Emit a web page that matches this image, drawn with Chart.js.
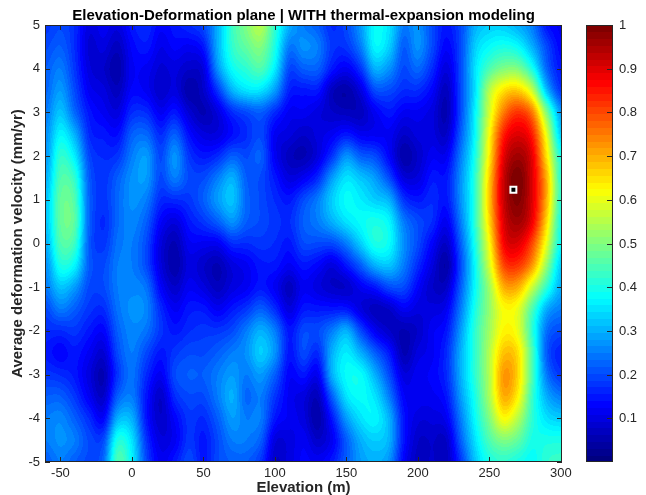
<!DOCTYPE html>
<html lang="en">
<head>
<meta charset="UTF-8">
<title>Elevation-Deformation plane</title>
<script src="https://cdn.jsdelivr.net/npm/chart.js@4"></script>
<style>
    body { margin: 0; background: #ffffff; }
    #wrap { width: 646px; height: 495px; }
</style>
</head>
<body>
<div id="wrap"><canvas id="plane" width="646" height="495"></canvas></div>
<script>
// grid nodes of the search plane
const elevations = [-60, -50, -40, -30, -20, -10, 0, 10, 20, 30, 40, 50, 60, 70, 80, 90, 100, 110, 120,
    130, 140, 150, 160, 170, 180, 190, 200, 210, 220, 230, 240, 250, 260, 270, 280, 290, 300];
const velocities = [5, 4.5, 4, 3.5, 3, 2.5, 2, 1.5, 1, 0.5, 0, -0.5, -1, -1.5, -2, -2.5, -3, -3.5, -4, -4.5, -5];

// normalized coherence, one row per velocity, read left to right along elevation
const v5p0 = [.18,.2,.17,.1,.12,.1,.15,.17,.13,.15,.17,.2,.3,.43,.5,.55,.42,.3,.25,.22,.17,.2,.28,.38,.35,.25,.27,.2,.15,.2,.3,.33,.33,.3,.25,.15,.12];
const v4p5 = [.2,.22,.17,.09,.1,.07,.13,.15,.11,.13,.12,.15,.3,.42,.47,.5,.4,.25,.27,.25,.18,.18,.25,.37,.33,.22,.27,.2,.13,.2,.33,.38,.4,.38,.3,.2,.13];
const v4p0 = [.22,.25,.18,.1,.08,.05,.12,.12,.09,.1,.08,.1,.27,.38,.42,.45,.36,.2,.22,.22,.15,.12,.18,.3,.27,.2,.23,.17,.1,.2,.35,.45,.5,.5,.4,.23,.15];
const v3p5 = [.23,.28,.2,.12,.1,.07,.13,.12,.08,.1,.05,.08,.18,.3,.35,.35,.28,.16,.15,.15,.07,.05,.1,.2,.2,.17,.17,.13,.07,.2,.35,.55,.65,.67,.57,.32,.18];
const v3p0 = [.25,.32,.23,.15,.12,.1,.17,.17,.12,.15,.09,.06,.1,.17,.2,.22,.17,.12,.12,.1,.08,.07,.07,.12,.15,.12,.12,.1,.06,.2,.37,.58,.75,.82,.75,.5,.28];
const v2p5 = [.27,.37,.3,.17,.15,.14,.22,.23,.17,.22,.14,.1,.1,.14,.17,.2,.12,.1,.08,.1,.12,.15,.12,.12,.12,.08,.1,.1,.08,.22,.38,.62,.84,.9,.84,.6,.33];
const v2p0 = [.28,.42,.36,.2,.17,.18,.25,.28,.2,.27,.18,.15,.17,.22,.2,.22,.12,.07,.06,.1,.18,.27,.22,.2,.13,.05,.08,.12,.12,.25,.4,.64,.89,.96,.89,.65,.4];
const v1p5 = [.3,.45,.42,.22,.18,.22,.27,.28,.2,.25,.2,.2,.25,.3,.22,.2,.15,.1,.12,.17,.28,.35,.32,.28,.2,.1,.1,.15,.15,.27,.42,.67,.92,1,.9,.7,.42];
const v1p0 = [.32,.47,.45,.23,.18,.23,.27,.25,.17,.17,.18,.22,.28,.32,.23,.2,.17,.15,.2,.25,.33,.38,.36,.33,.3,.18,.15,.17,.15,.27,.42,.68,.92,.99,.9,.7,.42];
const v0p5 = [.32,.47,.46,.23,.17,.23,.26,.22,.13,.1,.15,.18,.22,.27,.22,.2,.18,.17,.22,.25,.3,.35,.38,.4,.37,.25,.2,.17,.12,.25,.42,.66,.9,.96,.88,.66,.4];
const v0p0 = [.3,.45,.43,.22,.18,.24,.25,.2,.1,.06,.12,.12,.12,.17,.17,.18,.17,.15,.2,.2,.2,.25,.33,.4,.38,.27,.2,.13,.08,.22,.4,.62,.87,.9,.8,.6,.38];
const m0p5 = [.27,.4,.37,.22,.2,.25,.25,.2,.1,.05,.1,.08,.06,.1,.12,.15,.15,.12,.15,.13,.1,.15,.22,.3,.32,.25,.17,.1,.05,.2,.38,.58,.8,.82,.72,.52,.33];
const m1p0 = [.25,.32,.28,.2,.2,.25,.26,.24,.13,.08,.12,.1,.07,.1,.12,.15,.12,.07,.12,.1,.08,.08,.12,.15,.2,.2,.13,.08,.08,.22,.38,.53,.7,.7,.57,.42,.3];
const m1p5 = [.2,.25,.22,.18,.17,.24,.27,.26,.17,.12,.15,.15,.12,.15,.18,.22,.17,.1,.15,.15,.15,.15,.1,.07,.08,.12,.1,.1,.12,.25,.4,.52,.62,.6,.45,.3,.25];
const m2p0 = [.17,.17,.18,.15,.13,.22,.26,.24,.18,.15,.17,.18,.18,.2,.25,.3,.25,.15,.2,.2,.25,.3,.2,.12,.08,.06,.08,.12,.15,.28,.42,.53,.63,.6,.42,.24,.2];
const m2p5 = [.15,.13,.15,.12,.09,.2,.25,.2,.15,.18,.2,.2,.22,.25,.27,.33,.27,.15,.2,.17,.3,.36,.3,.22,.15,.06,.1,.12,.17,.3,.42,.55,.68,.65,.45,.22,.16];
const m3p0 = [.18,.17,.15,.1,.06,.18,.24,.17,.12,.2,.22,.22,.25,.28,.25,.28,.22,.13,.15,.12,.3,.38,.38,.3,.2,.1,.12,.13,.17,.3,.42,.55,.72,.66,.45,.25,.18];
const m3p5 = [.22,.22,.18,.12,.08,.22,.25,.15,.08,.17,.2,.2,.25,.3,.23,.25,.18,.12,.1,.07,.22,.35,.38,.35,.25,.13,.12,.12,.15,.28,.4,.54,.7,.63,.43,.3,.25];
const m4p0 = [.25,.26,.22,.17,.13,.3,.3,.15,.08,.13,.18,.17,.22,.28,.25,.25,.15,.12,.1,.05,.15,.28,.35,.37,.3,.15,.1,.1,.12,.25,.38,.5,.62,.55,.42,.35,.33];
const m4p5 = [.25,.27,.25,.2,.2,.4,.35,.18,.1,.12,.18,.15,.2,.25,.25,.22,.1,.1,.12,.08,.12,.22,.3,.33,.3,.15,.08,.08,.08,.22,.35,.45,.5,.47,.4,.4,.4];
const m5p0 = [.22,.25,.22,.2,.23,.45,.37,.2,.12,.15,.2,.15,.2,.22,.22,.18,.08,.1,.13,.12,.15,.22,.28,.3,.27,.13,.07,.08,.07,.18,.32,.4,.42,.4,.38,.42,.43];

const rows = [v5p0, v4p5, v4p0, v3p5, v3p0, v2p5, v2p0, v1p5, v1p0, v0p5, v0p0,
    m0p5, m1p0, m1p5, m2p0, m2p5, m3p0, m3p5, m4p0, m4p5, m5p0];

// best solution marker
const peakElevation = [266.8];
const peakVelocity = [1.23];

const colorbarTicks = [0.1, 0.2, 0.3, 0.4, 0.5, 0.6, 0.7, 0.8, 0.9, 1];
const nColors = 64;

// MATLAB jet colormap, nColors steps
function jet(v) {
    let i = Math.floor(v * nColors);
    i = Math.max(0, Math.min(nColors - 1, i));
    const t = i / (nColors - 1);
    const f = a => Math.max(0, Math.min(1, 1.5 - Math.abs(4 * t - a)));
    return [Math.round(f(3) * 255), Math.round(f(2) * 255), Math.round(f(1) * 255)];
}

function cubic(p0, p1, p2, p3, t) {
    return p1 + 0.5 * t * (p2 - p0 + t * (2 * p0 - 5 * p1 + 4 * p2 - p3 + t * (3 * (p1 - p2) + p3 - p0)));
}

function node(r, c) {
    r = Math.max(0, Math.min(rows.length - 1, r));
    c = Math.max(0, Math.min(elevations.length - 1, c));
    return rows[r][c];
}

// smooth shading between grid nodes
function sample(x, y) {
    let fx = (x - elevations[0]) / (elevations[1] - elevations[0]);
    let fy = (y - velocities[0]) / (velocities[1] - velocities[0]);
    fx = Math.max(0, Math.min(elevations.length - 1, fx));
    fy = Math.max(0, Math.min(rows.length - 1, fy));
    const ix = Math.floor(fx), iy = Math.floor(fy);
    const tx = fx - ix, ty = fy - iy;
    const col = [];
    for (let k = -1; k <= 2; k++) {
        const r = iy + k;
        col.push(cubic(node(r, ix - 1), node(r, ix), node(r, ix + 1), node(r, ix + 2), tx));
    }
    return Math.max(0, Math.min(1, cubic(col[0], col[1], col[2], col[3], ty)));
}

const heatmapPlugin = {
    id: 'heatmap',
    beforeDatasetsDraw(chart) {
        const {ctx, chartArea: a, scales: {x, y}} = chart;
        const w = Math.round(a.right - a.left), h = Math.round(a.bottom - a.top);
        const img = ctx.createImageData(w, h);
        for (let j = 0; j < h; j++) {
            const yv = y.getValueForPixel(a.top + j + 0.5);
            for (let i = 0; i < w; i++) {
                const xv = x.getValueForPixel(a.left + i + 0.5);
                const c = jet(sample(xv, yv));
                const p = (j * w + i) * 4;
                img.data[p] = c[0];
                img.data[p + 1] = c[1];
                img.data[p + 2] = c[2];
                img.data[p + 3] = 255;
            }
        }
        ctx.putImageData(img, Math.round(a.left), Math.round(a.top));
    },
    afterDraw(chart) {
        const {ctx, chartArea: a, scales: {x, y, cbar}} = chart;
        const tick = 5;
        ctx.save();
        ctx.strokeStyle = '#262626';
        ctx.lineWidth = 1;

        // inward ticks on all four sides
        ctx.beginPath();
        x.ticks.forEach(t => {
            const px = Math.round(x.getPixelForValue(t.value)) + 0.5;
            ctx.moveTo(px, a.bottom); ctx.lineTo(px, a.bottom - tick);
            ctx.moveTo(px, a.top); ctx.lineTo(px, a.top + tick);
        });
        y.ticks.forEach(t => {
            const py = Math.round(y.getPixelForValue(t.value)) + 0.5;
            ctx.moveTo(a.left, py); ctx.lineTo(a.left + tick, py);
            ctx.moveTo(a.right, py); ctx.lineTo(a.right - tick, py);
        });
        ctx.stroke();
        ctx.strokeRect(a.left + 0.5, a.top + 0.5, a.right - a.left - 1, a.bottom - a.top - 1);

        // colorbar
        const cbLeft = 586, cbRight = 613;
        for (let i = 0; i < nColors; i++) {
            const c = jet((i + 0.5) / nColors);
            const y0 = cbar.getPixelForValue((i + 1) / nColors);
            const y1 = cbar.getPixelForValue(i / nColors);
            ctx.fillStyle = 'rgb(' + c.join(',') + ')';
            ctx.fillRect(cbLeft, Math.floor(y0), cbRight - cbLeft, Math.ceil(y1) - Math.floor(y0));
        }
        ctx.strokeRect(cbLeft + 0.5, a.top + 0.5, cbRight - cbLeft - 1, a.bottom - a.top - 1);
        ctx.fillStyle = '#262626';
        ctx.font = '13px "Liberation Sans", Arial, sans-serif';
        ctx.textAlign = 'left';
        ctx.textBaseline = 'middle';
        ctx.beginPath();
        colorbarTicks.forEach(v => {
            const py = Math.round(cbar.getPixelForValue(v)) + 0.5;
            ctx.moveTo(cbRight - 1, py); ctx.lineTo(cbRight - 1 - tick, py);
            ctx.fillText(String(v), cbRight + 6, py);
        });
        ctx.stroke();

        // title
        ctx.fillStyle = '#000000';
        ctx.font = 'bold 15px "Liberation Sans", Arial, sans-serif';
        ctx.textAlign = 'center';
        ctx.textBaseline = 'alphabetic';
        ctx.fillText('Elevation-Deformation plane | WITH thermal-expansion modeling', (a.left + a.right) / 2, 20);
        ctx.restore();
    }
};

Chart.defaults.font.family = '"Liberation Sans", Arial, Helvetica, sans-serif';
Chart.defaults.color = '#262626';

const ctx = document.getElementById('plane').getContext('2d');
new Chart(ctx, {
    type: 'scatter',
    data: {
        datasets: [{
            data: peakElevation.map((e, i) => ({x: e, y: peakVelocity[i]})),
            pointStyle: 'rect',
            pointRadius: 4.2,
            backgroundColor: '#000000',
            borderColor: '#ffffff',
            borderWidth: 2
        }]
    },
    options: {
        responsive: false,
        animation: false,
        devicePixelRatio: 1,
        layout: { padding: { top: 25, right: 84, left: 0, bottom: 0 } },
        plugins: { legend: { display: false }, tooltip: { enabled: false } },
        scales: {
            x: {
                type: 'linear',
                min: -60.8,
                max: 300.8,
                grid: { display: false, drawTicks: false },
                border: { display: false },
                ticks: { stepSize: 50, includeBounds: false, autoSkip: false, maxRotation: 0, padding: 4, font: { size: 13 } },
                title: { display: true, text: 'Elevation (m)', color: '#262626', font: { size: 15, weight: 'bold' }, padding: { top: 0, bottom: -2 } },
                afterFit: s => { s.height = 33; }
            },
            y: {
                type: 'linear',
                min: -5,
                max: 5,
                grid: { display: false, drawTicks: false },
                border: { display: false },
                ticks: { stepSize: 1, includeBounds: false, autoSkip: false, padding: 5, font: { size: 13 } },
                title: { display: true, text: 'Average deformation velocity (mm/yr)', color: '#262626', font: { size: 15, weight: 'bold' }, padding: { top: 8.5, bottom: 0 } },
                afterFit: s => { s.width = 45; }
            },
            cbar: {
                type: 'linear',
                position: 'right',
                min: 0,
                max: 1,
                display: false
            }
        }
    },
    plugins: [heatmapPlugin]
});
</script>
</body>
</html>
